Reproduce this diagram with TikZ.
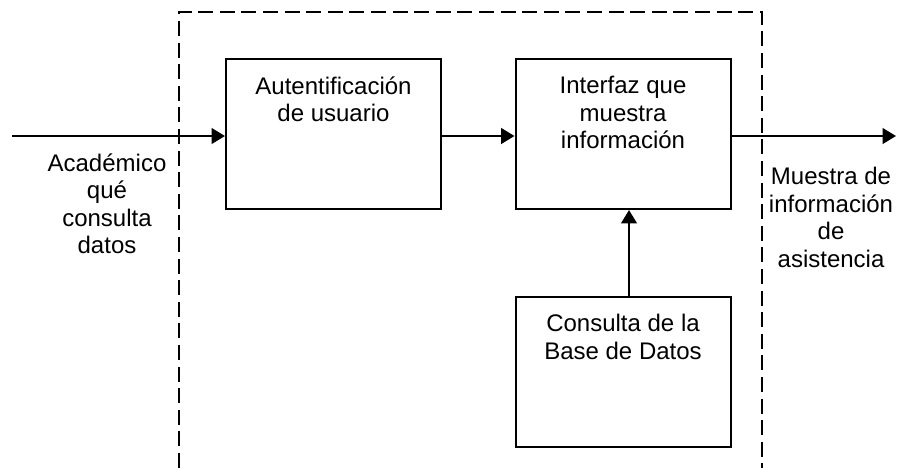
\documentclass[tikz,border=0pt]{standalone}
\usepackage{fontspec}
\setmainfont{Liberation Sans}
\usetikzlibrary{arrows.meta}
\begin{document}
\begin{tikzpicture}[x=0.5pt,y=-0.5pt,
  box/.style={draw,line width=1pt,minimum width=107.5pt,minimum height=75pt,inner sep=0pt},
  boxtext/.style={align=center,inner sep=0pt,font=\fontsize{12pt}{13.75pt}\selectfont},
  flow/.style={line width=1.2pt,-{Triangle[length=6.7pt,width=7.8pt]}},
  frame/.style={line width=0.75pt,dash pattern=on 7.5pt off 3.3pt}]
\useasboundingbox (0,0) rectangle (897,468);

% system boundary, open at the bottom
\draw[frame] (179,468) -- (179,12) -- (762,12) -- (762,468);

% process blocks
\node[box] (auth) at (333.5,134) {};
\node[box] (ui) at (623,134) {};
\node[box] (db) at (623,372) {};

\node[boxtext,anchor=north] (authT) at ([yshift=-9pt]auth.north) {Autentificación\\de usuario};
\node[boxtext,anchor=north] (uiT) at ([yshift=-9pt]ui.north) {Interfaz que\\muestra\\información};
\node[boxtext,anchor=north] (dbT) at ([yshift=-9pt]db.north) {Consulta de la\\Base de Datos};

% free ends of the input and output lines
\coordinate (in) at (12,136);
\coordinate (out) at (896,136);

\draw[flow] (in) -- (auth.west |- in);
\draw[flow] (auth.east |- in) -- (ui.west |- in);
\draw[flow] (ui.east |- in) -- (out);
\draw[flow] ([xshift=3pt]db.north) -- ([xshift=3pt]ui.south);

% input and output labels
\node[boxtext,anchor=north] (inL) at (107,153) {Académico\\qué\\consulta\\datos};
\node[boxtext,anchor=north] (outL) at (831,167) {Muestra de\\información\\de\\asistencia};
\end{tikzpicture}
\end{document}
